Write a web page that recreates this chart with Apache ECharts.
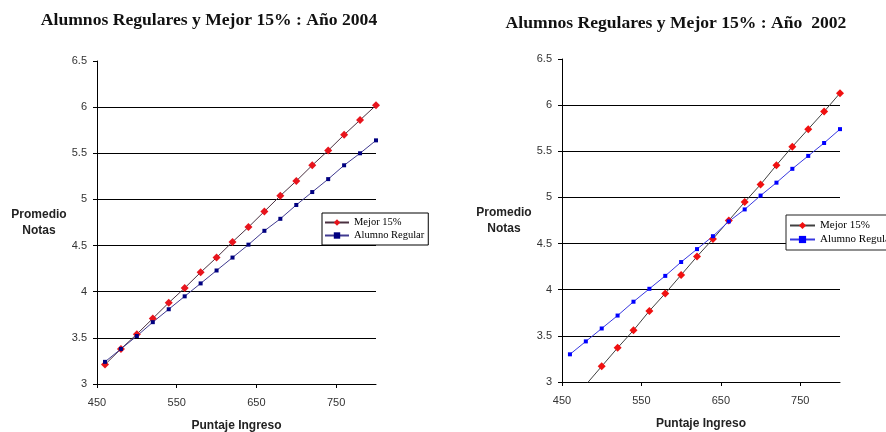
<!DOCTYPE html>
<html>
<head>
<meta charset="utf-8">
<script src="https://cdn.jsdelivr.net/npm/echarts@6/dist/echarts.min.js"></script>
<style>
html,body{margin:0;padding:0;background:#fff;}
#chart{width:886px;height:432px;}
</style>
</head>
<body>
<div id="chart"></div>
<script>
// ---- Data ----
const titles = ['Alumnos Regulares y Mejor 15% : Año 2004', 'Alumnos Regulares y Mejor 15% : Año  2002'];
const seriesNames = ['Mejor 15%', 'Alumno Regular'];
const yAxisName = 'Promedio\nNotas';
const xAxisName = 'Puntaje Ingreso';

const puntaje2004 = [460, 480, 500, 520, 540, 560, 580, 600, 620, 640, 660, 680, 700, 720, 740, 760, 780, 800];
const mejor2004   = [3.21, 3.38, 3.54, 3.71, 3.88, 4.04, 4.21, 4.37, 4.54, 4.70, 4.87, 5.04, 5.20, 5.37, 5.53, 5.70, 5.86, 6.02];
const regular2004 = [3.24, 3.38, 3.52, 3.67, 3.81, 3.95, 4.09, 4.23, 4.37, 4.51, 4.66, 4.79, 4.94, 5.08, 5.22, 5.37, 5.50, 5.64];

const puntajeMejor2002 = [480, 500, 520, 540, 560, 580, 600, 620, 640, 660, 680, 700, 720, 740, 760, 780, 800];
const mejor2002        = [2.97, 3.17, 3.37, 3.56, 3.77, 3.96, 4.16, 4.36, 4.55, 4.75, 4.95, 5.14, 5.35, 5.55, 5.74, 5.93, 6.13];
const puntajeRegular2002 = [460, 480, 500, 520, 540, 560, 580, 600, 620, 640, 660, 680, 700, 720, 740, 760, 780, 800];
const regular2002        = [3.30, 3.44, 3.58, 3.72, 3.87, 4.01, 4.15, 4.30, 4.44, 4.58, 4.74, 4.87, 5.02, 5.16, 5.31, 5.45, 5.59, 5.74];

const xRange = {min: 450, max: 800, interval: 100};
const yRange = {min: 3, max: 6.5, interval: 0.5};

// ---- Helpers ----
const pairs = (xs, ys) => xs.map((x, i) => [x, ys[i]]);
const sans = 'Liberation Sans, Arial, sans-serif';
const serif = 'Liberation Serif, Times New Roman, serif';

function xAxisCfg(gi) {
  return {
    type: 'value', gridIndex: gi, min: xRange.min, max: xRange.max, interval: xRange.interval,
    name: xAxisName, nameLocation: 'middle', nameGap: 36,
    nameTextStyle: {fontFamily: sans, fontWeight: 'bold', fontSize: 12, color: '#222'},
    axisLine: {show: true, lineStyle: {color: '#000', width: 1}},
    axisTick: {show: true, length: 4, lineStyle: {color: '#000'}},
    axisLabel: {fontFamily: sans, fontSize: 11, color: '#333', margin: 13, showMaxLabel: false},
    splitLine: {show: false}
  };
}
function yAxisCfg(gi) {
  return {
    type: 'value', gridIndex: gi, min: yRange.min, max: yRange.max, interval: yRange.interval,
    name: yAxisName, nameLocation: 'middle', nameRotate: 0, nameGap: 58,
    nameTextStyle: {fontFamily: sans, fontWeight: 'bold', fontSize: 12, color: '#222', align: 'center', lineHeight: 16},
    axisLine: {show: true, lineStyle: {color: '#000', width: 1}},
    axisTick: {show: true, length: 4, lineStyle: {color: '#000'}},
    axisLabel: {fontFamily: sans, fontSize: 11, color: '#333', margin: 10},
    splitLine: {show: true, showMinLine: false, showMaxLine: false, lineStyle: {color: '#000', width: 1}}
  };
}

const chart = echarts.init(document.getElementById('chart'), null, {renderer: 'canvas'});
chart.setOption({
  animation: false,
  backgroundColor: '#fff',
  title: [
    {text: titles[0], left: 204, top: 6, textAlign: 'center',
     textStyle: {fontFamily: serif, fontWeight: 'bold', fontSize: 17.6, color: '#111'}},
    {text: titles[1], left: 671, top: 9, textAlign: 'center',
     textStyle: {fontFamily: serif, fontWeight: 'bold', fontSize: 17.6, color: '#111'}}
  ],
  grid: [
    {left: 97, top: 61, width: 279, height: 323, outerBoundsMode: 'none', containLabel: false},
    {left: 562, top: 59, width: 278, height: 323, outerBoundsMode: 'none', containLabel: false}
  ],
  xAxis: [xAxisCfg(0), xAxisCfg(1)],
  yAxis: [yAxisCfg(0), yAxisCfg(1)],
  legend: [
    {orient: 'vertical', left: 322, top: 213,
     padding: [4, 4, 4, 2], itemGap: 2, itemWidth: 24, itemHeight: 8,
     backgroundColor: '#fff', borderColor: '#000', borderWidth: 1, borderRadius: 0,
     textStyle: {fontFamily: serif, fontSize: 10.5, color: '#000'}},
    {orient: 'vertical', left: 786, top: 215,
     padding: [5, 4, 5, 3], itemGap: 3, itemWidth: 25, itemHeight: 9,
     backgroundColor: '#fff', borderColor: '#222', borderWidth: 1, borderRadius: 0,
     textStyle: {fontFamily: serif, fontSize: 11, color: '#000'}}
  ],
  series: [
    {name: seriesNames[0], type: 'line', xAxisIndex: 0, yAxisIndex: 0, data: pairs(puntaje2004, mejor2004),
     symbol: 'diamond', symbolSize: 8, lineStyle: {color: '#4a3040', width: 1},
     itemStyle: {color: '#e8141c'}},
    {name: seriesNames[1], type: 'line', xAxisIndex: 0, yAxisIndex: 0, data: pairs(puntaje2004, regular2004),
     symbol: 'rect', symbolSize: 4, lineStyle: {color: '#403a90', width: 1},
     itemStyle: {color: '#000080'}},
    {name: seriesNames[0] + ' ', type: 'line', xAxisIndex: 1, yAxisIndex: 1, data: pairs(puntajeMejor2002, mejor2002),
     symbol: 'diamond', symbolSize: 8, lineStyle: {color: '#404040', width: 1},
     itemStyle: {color: '#f01010'}, clip: true},
    {name: seriesNames[1] + ' ', type: 'line', xAxisIndex: 1, yAxisIndex: 1, data: pairs(puntajeRegular2002, regular2002),
     symbol: 'rect', symbolSize: 4, lineStyle: {color: '#3838e0', width: 1},
     itemStyle: {color: '#0000ff'}}
  ]
});
chart.setOption({legend: [{data: [seriesNames[0], seriesNames[1]]}, {data: [seriesNames[0] + ' ', seriesNames[1] + ' ']}]});
</script>
</body>
</html>
